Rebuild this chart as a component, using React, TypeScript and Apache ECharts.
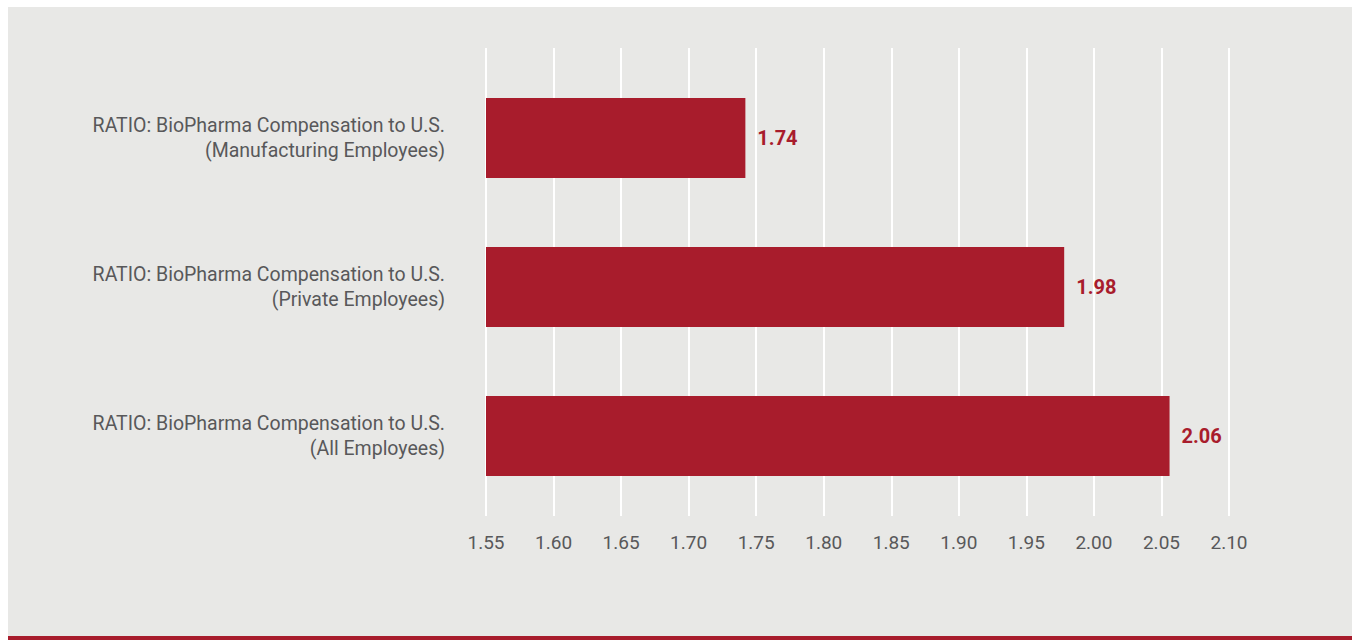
import React, { useEffect, useRef } from "react";
import * as echarts from "echarts";

const categories = [
  "RATIO: BioPharma Compensation to U.S.\n(Manufacturing Employees)",
  "RATIO: BioPharma Compensation to U.S.\n(Private Employees)",
  "RATIO: BioPharma Compensation to U.S.\n(All Employees)",
];
const ratioValues = [1.742, 1.978, 2.056];
const axisMin = 1.55;
const axisMax = 2.1;
const axisStep = 0.05;

const BG = "#e8e8e6";
const RED = "#a81c2c";
const TEXT = "#58585a";

export default function App() {
  const ref = useRef<HTMLDivElement>(null);
  useEffect(() => {
    if (!ref.current) return;
    const chart = echarts.init(ref.current, undefined, { renderer: "svg" });
    chart.setOption({
      animation: false,
      backgroundColor: BG,
      textStyle: { fontFamily: "Roboto" },
      grid: [
        { left: 478, right: 123, top: 41, bottom: 120 },
        { left: 478, right: 123, top: 56.5, bottom: 125.5 },
      ],
      xAxis: [
        {
          type: "value",
          gridIndex: 0,
          min: axisMin,
          max: axisMax,
          interval: axisStep,
          axisLine: { show: false },
          axisTick: { show: false },
          splitLine: { show: true, lineStyle: { color: "#ffffff", width: 2 } },
          axisLabel: {
            color: TEXT,
            fontSize: 19,
            margin: 17,
            fontFamily: "Roboto",
            formatter: (v: number) => v.toFixed(2),
          },
        },
        {
          type: "value",
          gridIndex: 1,
          min: axisMin,
          max: axisMax,
          interval: axisStep,
          show: false,
          splitLine: { show: false },
        },
      ],
      yAxis: [
        {
          type: "category",
          gridIndex: 0,
          data: categories,
          show: false,
        },
        {
          type: "category",
          gridIndex: 1,
          data: categories,
          inverse: true,
          axisLine: { show: false },
          axisTick: { show: false },
          splitLine: { show: false },
          axisLabel: {
            color: TEXT,
            fontSize: 19.5,
            lineHeight: 25,
            margin: 41,
            align: "right",
            fontFamily: "Roboto",
          },
        },
      ],
      series: [
        {
          type: "bar",
          xAxisIndex: 1,
          yAxisIndex: 1,
          data: ratioValues,
          barWidth: 80,
          itemStyle: { color: RED },
          label: {
            show: true,
            position: "right",
            distance: 12,
            color: RED,
            fontSize: 20,
            fontWeight: "bold",
            fontFamily: "Roboto",
            formatter: (p: any) => Number(p.value).toFixed(2),
          },
        },
      ],
    });
    return () => chart.dispose();
  }, []);

  return (
    <div>
      <div
        ref={ref}
        style={{ position: "fixed", left: 8, top: 7, width: 1344, height: 629 }}
      />
      <div
        style={{
          position: "fixed",
          left: 8,
          top: 636,
          width: 1344,
          height: 4,
          background: RED,
        }}
      />
    </div>
  );
}
